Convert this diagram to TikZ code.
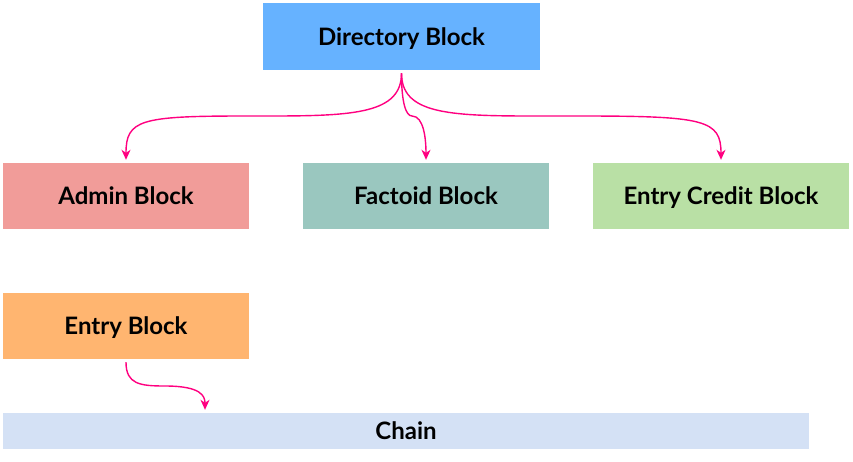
\documentclass[tikz,border=0pt]{standalone}
\usepackage{fontspec}
\setmainfont{Lato}
\usetikzlibrary{arrows.meta}
\definecolor{dirblue}{HTML}{66B2FF}
\definecolor{adminred}{HTML}{F19C99}
\definecolor{factgreen}{HTML}{9AC7BF}
\definecolor{creditgreen}{HTML}{B9E0A5}
\definecolor{entryorange}{HTML}{FFB570}
\definecolor{chainblue}{HTML}{D4E1F5}
\definecolor{linkpink}{HTML}{FF0080}

\begin{document}
\begin{tikzpicture}[x=1pt,y=-1pt,
  blk/.style={inner sep=0pt,minimum height=66pt,minimum width=246pt,text depth=0pt,
    font=\fontsize{24}{28}\selectfont\bfseries},
  link/.style={-{Stealth[length=10pt,width=9pt,inset=3pt]},draw=linkpink,
    line width=1.4pt}]
  \useasboundingbox (0,0) rectangle (853,461);
  \node[blk,fill=dirblue,minimum width=277pt,minimum height=67pt] (dir) at (401.5,36.5) {Directory Block};
  \node[blk,fill=adminred] (admin) at (126,196) {Admin Block};
  \node[blk,fill=factgreen] (fact) at (426,196) {Factoid Block};
  \node[blk,fill=creditgreen,minimum width=256pt] (credit) at (721,196) {Entry Credit Block};
  \node[blk,fill=entryorange] (entry) at (126,326) {Entry Block};
  \node[blk,fill=chainblue,minimum width=806pt,minimum height=36pt] (chain) at (406,431) {Chain};
  \coordinate (dirout) at ([yshift=-3pt]dir.south);
  \draw[link] (dirout) .. controls +(0,40) and +(85,0) .. (270,116) -- (245,116)
    .. controls +(-105,0) and +(0,-40) .. ([yshift=3pt]admin.north);
  \draw[link] (dirout) .. controls +(0,40) and +(-85,0) .. (532,116) -- (580,116)
    .. controls +(125,0) and +(0,-40) .. ([yshift=3pt]credit.north);
  \draw[link] (dirout) .. controls +(0,30) and +(-6,0) .. (412,116)
    .. controls +(12,0) and +(0,-20) .. ([yshift=3pt]fact.north);
  \draw[link] ([yshift=-3pt]entry.south) .. controls +(0,22) and +(-25,0) .. (165,386)
    .. controls +(36,0) and +(0,-14) .. ([yshift=3pt,xshift=79pt]entry.south |- chain.north);
\end{tikzpicture}
\end{document}
